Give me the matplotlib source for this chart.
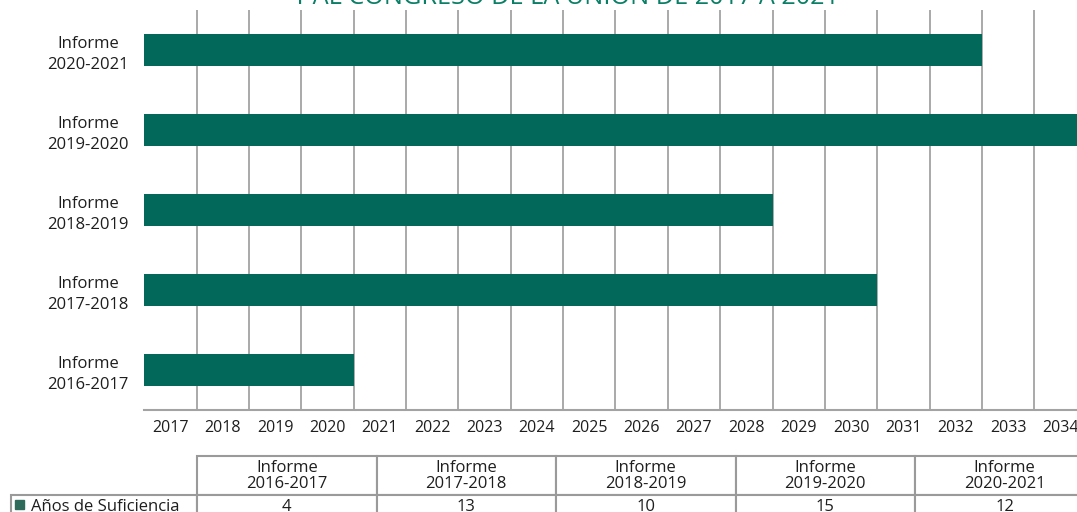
import matplotlib
matplotlib.use('Agg')
import matplotlib.pyplot as plt
from matplotlib.patches import Rectangle

# === DATA ===
informes = ['Informe\n2016-2017', 'Informe\n2017-2018', 'Informe\n2018-2019',
            'Informe\n2019-2020', 'Informe\n2020-2021']
fin_informe = [2017, 2018, 2019, 2020, 2021]     # year each report closes
anios_suficiencia = [4, 13, 10, 15, 12]          # years of sufficiency
anios_eje = list(range(2017, 2035))              # x-axis year labels
serie_nombre = 'Años de Suficiencia'
titulo = 'Y AL CONGRESO DE LA UNIÓN DE 2017 A 2021'

GREEN = '#02695A'
GRID = '#a3a3a3'
TXT = '#1e1e1e'
plt.rcParams['font.family'] = ['Open Sans', 'DejaVu Sans']

W, H = 1077, 512
fig = plt.figure(figsize=(W / 100, H / 100), dpi=100)

# axes placed in pixel terms
ax_l, ax_w = 144.2, 942.5
ax_top, ax_bot = 10, 410
ax = fig.add_axes([ax_l / W, (H - ax_bot) / H, ax_w / W, (ax_bot - ax_top) / H])

# bar length = years from 2017 to (report year + years of sufficiency)
base = anios_eje[0]
largos = [f + a - base for f, a in zip(fin_informe, anios_suficiencia)]
ypos = list(range(len(informes)))
ax.barh(ypos, largos, left=0, height=0.4, color=GREEN, zorder=3)

ax.set_xlim(0, len(anios_eje))
ax.set_ylim(-0.5, len(informes) - 0.5)

# year labels centred in each band, grid on band boundaries
ax.set_xticks([i + 0.5 for i in range(len(anios_eje))])
ax.set_xticklabels([str(a) for a in anios_eje], fontsize=11.5)
ax.set_xticks(range(1, len(anios_eje) + 1), minor=True)
ax.grid(which='minor', axis='x', color=GRID, lw=1.3, zorder=0)
ax.tick_params(axis='x', which='both', length=0, pad=7, labelcolor=TXT)

ax.set_yticks(ypos)
ax.set_yticklabels(informes, fontsize=12, multialignment='center', linespacing=1.42)
ax.tick_params(axis='y', length=0, pad=12, labelcolor=TXT)
for lab in ax.get_yticklabels():
    lab.set_horizontalalignment('center')
    lab.set_verticalalignment('center_baseline')
    lab.set_x(-0.042)

for s in ['top', 'right', 'left']:
    ax.spines[s].set_visible(False)
ax.spines['bottom'].set_color(GRID)
ax.spines['bottom'].set_linewidth(1.5)

# title, mostly cut by the top of the figure
fig.text(566 / W, 1 - 4 / H, titulo, ha='center', va='baseline',
         color='#0b7f66', fontsize=18.2)

# data table under the chart
cell_text = [[''] + informes,
             [serie_nombre] + [str(v) for v in anios_suficiencia]]
def to_ax_x(px):
    return (px - ax_l) / ax_w
def to_ax_y(py):
    return (ax_bot - py) / (ax_bot - ax_top)
t_left, t_right, t_top, t_bot = 11.4, 1094.5, 456, 519
tab = ax.table(cellText=cell_text,
               colWidths=[185.6] + [179.5] * len(informes),
               cellLoc='center',
               bbox=[to_ax_x(t_left), to_ax_y(t_bot),
                     to_ax_x(t_right) - to_ax_x(t_left),
                     to_ax_y(t_top) - to_ax_y(t_bot)])
tab.auto_set_font_size(False)
tab.set_fontsize(12)
for (r, c), cell in tab.get_celld().items():
    cell.set_edgecolor('#9a9a9a')
    cell.set_linewidth(1.5)
    cell.set_height(39 if r == 0 else 24)
    cell.get_text().set_color(TXT)
    if r == 0:
        cell.get_text().set_linespacing(1.0)
tab[0, 0].visible_edges = 'open'
tab[1, 0].get_text().set_horizontalalignment('left')
tab[1, 0].PAD = 0.105

# legend key square
fig.add_artist(Rectangle((15 / W, 1 - 509 / H), 9 / W, 9 / H,
                         transform=fig.transFigure, color='#2e6b5a'))

fig.savefig('out.png', dpi=100)
